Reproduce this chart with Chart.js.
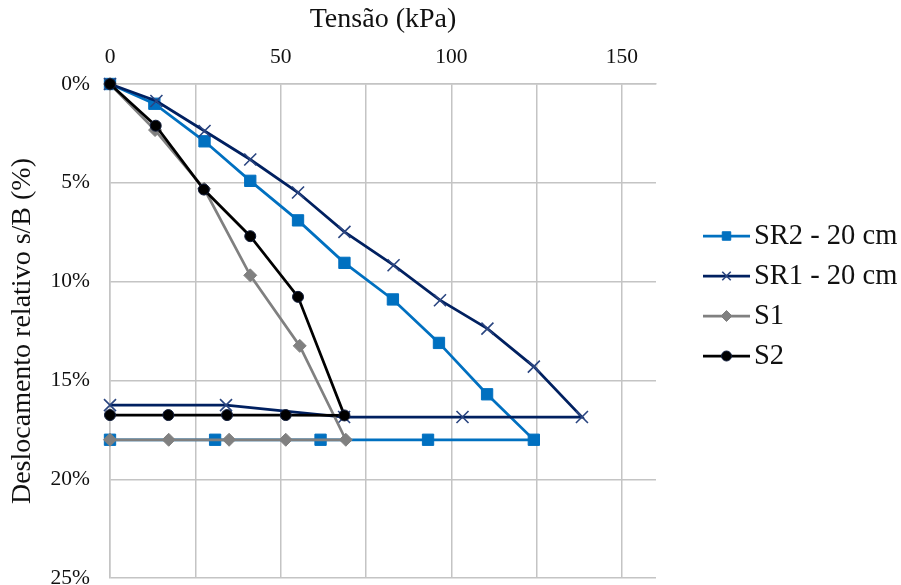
<!DOCTYPE html>
<html>
<head>
<meta charset="utf-8">
<script src="https://cdn.jsdelivr.net/npm/chart.js@4.4.1/dist/chart.umd.min.js"></script>
<style>
  html, body { margin: 0; padding: 0; background: #fff; overflow: hidden; }
  #chart { position: absolute; left: 0; top: 0; }
</style>
</head>
<body>
<canvas id="chart" width="901" height="611"></canvas>
<script>
// Tensão (kPa) e deslocamento relativo s/B (%)
const sr2Tensao = [0, 13, 27.7, 41.1, 55.1, 68.7, 82.9, 96.4, 110.5, 124.2, 93.2, 61.7, 30.8, 0];
const sr2Desloc = [0, 1.0, 2.9, 4.9, 6.9, 9.05, 10.9, 13.1, 15.7, 18.0, 18.0, 18.0, 18.0, 18.0];

const sr1Tensao = [0, 13.6, 27.7, 41.1, 55.1, 68.7, 83.1, 96.7, 110.6, 124.2, 138.3, 103.3, 68.6, 34, 0];
const sr1Desloc = [0, 0.86, 2.38, 3.82, 5.49, 7.48, 9.17, 10.94, 12.38, 14.3, 16.85, 16.85, 16.85, 16.25, 16.25];

const s1Tensao = [0, 13.2, 27.6, 41.1, 55.6, 69.1, 51.5, 34.9, 17.2, 0];
const s1Desloc = [0, 2.33, 5.3, 9.68, 13.25, 18.0, 18.0, 18.0, 18.0, 18.0];

const s2Tensao = [0, 13.4, 27.5, 41.1, 55.1, 68.7, 51.5, 34.3, 17.1, 0];
const s2Desloc = [0, 2.11, 5.34, 7.7, 10.77, 16.77, 16.75, 16.75, 16.75, 16.75];

const seriesNames = ["SR2 - 20 cm", "SR1 - 20 cm", "S1", "S2"];
const xTicks = [0, 25, 50, 75, 100, 125, 150];

const serif = "'Liberation Serif', 'Times New Roman', serif";

function toPoints(xs, ys) {
  return xs.map((x, i) => ({ x: x, y: ys[i] }));
}

function makeDataset(label, xs, ys, color, style, radius, markerBorder, order) {
  return {
    label: label,
    data: toPoints(xs, ys),
    showLine: true,
    borderColor: color,
    backgroundColor: color,
    borderWidth: 2.75,
    pointStyle: style,
    pointRadius: radius,
    pointHoverRadius: radius,
    pointBackgroundColor: color,
    pointBorderColor: markerBorder,
    pointBorderWidth: style === "crossRot" ? 1.6 : 1,
    tension: 0,
    clip: false,
    order: order
  };
}

const legendRadius = [6, 6, 5.5, 5];

// legenda desenhada à direita (linha + marcador + texto)
const legendPlugin = {
  id: "customLegend",
  afterDraw(chart) {
    const ctx = chart.ctx;
    const x0 = chart.chartArea.right + 47;
    const yStart = 236;
    seriesNames.forEach((name, i) => {
      const ds = chart.data.datasets[i];
      const y = yStart + i * 40;
      ctx.save();
      ctx.strokeStyle = ds.borderColor;
      ctx.lineWidth = ds.borderWidth;
      ctx.beginPath();
      ctx.moveTo(x0, y);
      ctx.lineTo(x0 + 47, y);
      ctx.stroke();
      ctx.fillStyle = ds.pointBackgroundColor;
      ctx.strokeStyle = ds.pointBorderColor;
      ctx.lineWidth = ds.pointBorderWidth;
      Chart.helpers.drawPoint(ctx, {
        pointStyle: ds.pointStyle,
        radius: legendRadius[i],
        rotation: 0,
        borderWidth: ds.pointBorderWidth
      }, x0 + 23.5, y);
      ctx.fillStyle = "#111";
      ctx.font = "28.5px " + serif;
      ctx.textBaseline = "middle";
      ctx.textAlign = "left";
      ctx.fillText(name, x0 + 51, y + 1);
      ctx.restore();
    });
  }
};

const ctx = document.getElementById("chart").getContext("2d");
const chart = new Chart(ctx, {
  type: "scatter",
  data: {
    datasets: [
      makeDataset(seriesNames[0], sr2Tensao, sr2Desloc, "#0070c0", "rect", 8, "#0070c0", 4),
      makeDataset(seriesNames[1], sr1Tensao, sr1Desloc, "#002060", "crossRot", 8.5, "#2a4580", 3),
      makeDataset(seriesNames[2], s1Tensao, s1Desloc, "#808080", "rectRot", 6.5, "#808080", 2),
      makeDataset(seriesNames[3], s2Tensao, s2Desloc, "#000000", "circle", 5.5, "#101c3a", 1)
    ]
  },
  options: {
    responsive: false,
    animation: false,
    events: [],
    layout: { padding: { left: 0, top: 0, right: 245, bottom: 9 } },
    plugins: {
      legend: { display: false },
      tooltip: { enabled: false }
    },
    scales: {
      x: {
        type: "linear",
        position: "top",
        min: 0,
        max: 160,
        afterBuildTicks: axis => {
          axis.ticks = xTicks.map(v => ({ value: v }));
        },
        afterFit: scale => { scale.height = 84; },
        ticks: {
          color: "#111",
          font: { family: serif, size: 21.5 },
          padding: 14,
          maxRotation: 0,
          callback: v => (v % 50 === 0 ? String(v) : "")
        },
        grid: { color: "#c4c4c4", lineWidth: 1.5, drawTicks: false },
        border: { color: "#c4c4c4", width: 1.5 },
        title: {
          display: true,
          text: "Tensão (kPa)",
          color: "#111",
          font: { family: serif, size: 28 },
          padding: { top: 3, bottom: 0 }
        }
      },
      y: {
        type: "linear",
        reverse: true,
        min: 0,
        max: 25,
        afterFit: scale => { scale.width = 110; },
        ticks: {
          stepSize: 5,
          color: "#111",
          font: { family: serif, size: 21.5 },
          padding: 20,
          callback: v => v + "%"
        },
        grid: { color: "#c4c4c4", lineWidth: 1.5, drawTicks: false },
        border: { color: "#c4c4c4", width: 1.5 },
        title: {
          display: true,
          text: "Deslocamento relativo s/B (%)",
          color: "#111",
          font: { family: serif, size: 28 },
          padding: { top: 6, bottom: 0 }
        }
      }
    }
  },
  plugins: [legendPlugin]
});
</script>
</body>
</html>
